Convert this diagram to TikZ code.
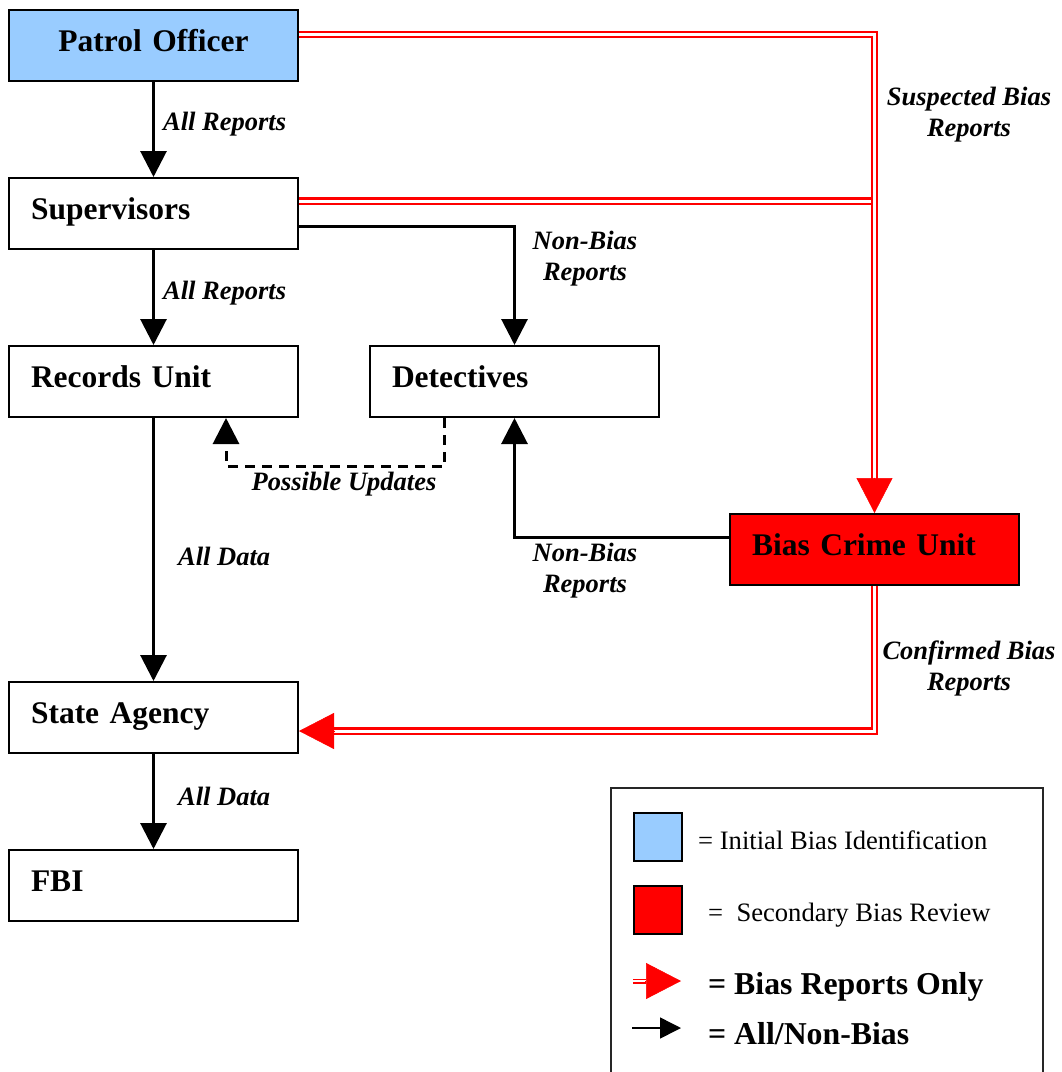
\documentclass[tikz,border=0pt]{standalone}
\usepackage{fontspec}
\setmainfont{Liberation Serif}
\usetikzlibrary{arrows.meta,calc}

\definecolor{officerblue}{HTML}{99CCFF}
\definecolor{biasred}{HTML}{FF0000}

\newcommand\boxtitlefont{\fontsize{31.5}{36}\selectfont\bfseries}
\newcommand\flowlabelfont{\fontsize{26.5}{31}\selectfont\bfseries\itshape}
\newcommand\keyfont{\fontsize{26.6}{30}\selectfont}
\newcommand\keyboldfont{\fontsize{31.8}{36}\selectfont\bfseries}

\tikzset{
  unitbox/.style={draw=black, line width=2pt, minimum width=289pt,
    minimum height=71pt, inner xsep=22pt, inner ysep=0pt, text width=245pt,
    text height=22pt, text depth=11pt,
    align=left, font=\boxtitlefont, anchor=north west},
  flow/.style={draw=black, line width=3pt,
    -{Triangle[length=26pt,width=26pt]}},
  updateflow/.style={flow, dash pattern=on 10pt off 7pt},
  biasline/.style={draw=biasred, line width=2.4pt, double=white,
    double distance=3pt},
  biashead/.style={draw=biasred, fill=biasred, line width=0.5pt,
    -{Triangle[length=35pt,width=36pt]}},
  flowlabel/.style={font=\flowlabelfont, inner sep=0pt, align=center},
  keysquare/.style={draw=black, line width=2pt, minimum width=48pt,
    minimum height=48pt, inner sep=0pt, anchor=north west},
}

\begin{document}
\begin{tikzpicture}[x=1pt, y=-1pt]
  \useasboundingbox (0,0) rectangle (1062,1072);

  % Units of the reporting chain
  \node[unitbox, fill=officerblue, align=center] (po) at (8,9)
    {Patrol Officer};
  \node[unitbox, fill=white] (sup) at (8,177) {Supervisors};
  \node[unitbox, fill=white] (rec) at (8,345) {Records Unit};
  \node[unitbox, fill=white] (det) at (369,345) {Detectives};
  \node[unitbox, fill=biasred] (bcu) at (729,513) {Bias Crime Unit};
  \node[unitbox, fill=white] (sa) at (8,681) {State Agency};
  \node[unitbox, fill=white] (fbi) at (8,849) {FBI};

  % All / non-bias flows
  \draw[flow] (po.south) -- (sup.north);
  \draw[flow] (sup.south) -- (rec.north);
  \draw[flow] (rec.south) -- (sa.north);
  \draw[flow] (sa.south) -- (fbi.north);
  \draw[flow] ($(sup.east)+(0,12.5)$) -| (det.north);
  \draw[flow] ($(bcu.west)+(0,-12.5)$) -| (det.south);
  \draw[updateflow] ($(det.south)+(-70,0)$) -- ++(0,48)
    -| ($(rec.south)+(72.5,0)$);

  % Bias-only flows (double red lines)
  \coordinate (redtop) at ($(po.east)+(0,-11)$);
  \coordinate (redlow) at ($(bcu.south)+(0,145)$);
  \draw[biasline] ($(sup.east)+(0,-12.5)$)
    -- ($(bcu.north |- sup.east)+(-3,-12.5)$);
  \draw[biasline] (redtop) -| ($(bcu.north)+(0,-34.5)$);
  \draw[biashead] ($(bcu.north)+(0,-35.5)$) -- (bcu.north);
  \draw[biasline] (bcu.south) -- (redlow)
    -- ($(sa.east |- redlow)+(35,0)$);
  \draw[biashead] ($(sa.east |- redlow)+(36,0)$) -- (sa.east |- redlow);

  % Flow labels
  \node[flowlabel, anchor=west] (l1) at (163,124) {All Reports};
  \node[flowlabel, anchor=west] (l2) at (163,293) {All Reports};
  \node[flowlabel] (l3) at (585,259) {Non-Bias\\Reports};
  \node[flowlabel] (l4) at (344,484) {Possible Updates};
  \node[flowlabel, anchor=west] (l5) at (178,556) {All Data};
  \node[flowlabel] (l6) at (585,571) {Non-Bias\\Reports};
  \node[flowlabel, anchor=west] (l7) at (178,796) {All Data};
  \node[flowlabel] (l8) at (969,115) {Suspected Bias\\Reports};
  \node[flowlabel] (l9) at (969,668) {Confirmed Bias\\Reports};

  % Legend
  \node[draw=black!85, line width=2pt, minimum width=432pt,
    minimum height=300pt, anchor=north west, inner sep=0pt] (legend)
    at (610,787) {};
  \node[keysquare, fill=officerblue] (kblue) at (633,812) {};
  \node[keysquare, fill=biasred] (kred) at (633,885) {};
  \node[font=\keyfont, anchor=west, inner sep=0pt] (tblue)
    at (698,840) {= Initial Bias Identification};
  \node[font=\keyfont, anchor=west, inner sep=0pt] (tred)
    at (708,915) {=\enspace Secondary Bias Review};
  \coordinate (kbs) at (633,981);
  \coordinate (kbe) at (681,981);
  \draw[biasline, double distance=2pt, line width=1.5pt]
    (kbs) -- ($(kbe)+(-35,0)$);
  \draw[biashead] ($(kbe)+(-36,0)$) -- (kbe);
  \coordinate (kas) at (632,1028);
  \coordinate (kae) at (681,1028);
  \draw[draw=black, line width=1.5pt, -{Triangle[length=21pt,width=21pt]}]
    (kas) -- (kae);
  \node[font=\keyboldfont, anchor=west, inner sep=0pt] (tbias)
    at (708,987) {= Bias Reports Only};
  \node[font=\keyboldfont, anchor=west, inner sep=0pt] (tall)
    at (708,1034) {= All/Non-Bias};
\end{tikzpicture}
\end{document}
